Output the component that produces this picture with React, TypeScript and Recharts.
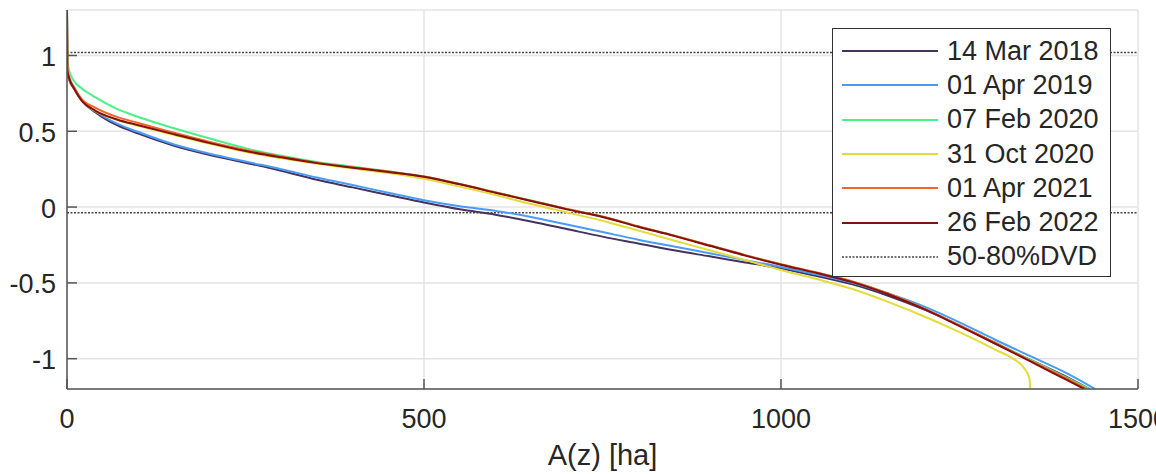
import React from "react";
import {
  CartesianGrid,
  Legend,
  Line,
  LineChart,
  ReferenceLine,
  XAxis,
  YAxis,
} from "recharts";

// shared area grid [ha] the surveys are read at
const AREA = [
  0, 0.5, 3, 10, 20, 40, 70, 100, 150, 200, 250, 300, 350, 400, 450, 500, 550,
  600, 650, 700, 750, 800, 850, 900, 950, 1000, 1050, 1100, 1150, 1200, 1250, 1300,
];

// elevation z at each AREA value, one array per survey
const MAR_2018 = [
  1.3, 0.89, 0.84, 0.78, 0.705, 0.625, 0.54, 0.485, 0.405, 0.344, 0.293, 0.24,
  0.18, 0.13, 0.08, 0.03, -0.015, -0.05, -0.095, -0.145, -0.195, -0.24, -0.285,
  -0.325, -0.365, -0.405, -0.455, -0.51, -0.585, -0.675, -0.78, -0.9,
];
const APR_2019 = [
  1.3, 0.9, 0.85, 0.785, 0.71, 0.632, 0.55, 0.495, 0.413, 0.352, 0.3, 0.25,
  0.195, 0.145, 0.095, 0.045, 0.005, -0.025, -0.065, -0.115, -0.165, -0.215,
  -0.26, -0.305, -0.35, -0.395, -0.445, -0.5, -0.57, -0.655, -0.76, -0.875,
];
const FEB_2020 = [
  1.3, 0.97, 0.9, 0.83, 0.785, 0.724, 0.648, 0.594, 0.52, 0.452, 0.388, 0.338,
  0.298, 0.267, 0.236, 0.202, 0.153, 0.098, 0.043, -0.012, -0.063, -0.128,
  -0.188, -0.253, -0.318, -0.378, -0.433, -0.49, -0.57, -0.67, -0.78, -0.895,
];
const OCT_2020 = [
  1.3, 0.9, 0.85, 0.78, 0.705, 0.633, 0.575, 0.536, 0.475, 0.417, 0.365, 0.323,
  0.285, 0.255, 0.225, 0.187, 0.135, 0.08, 0.02, -0.035, -0.09, -0.155, -0.22,
  -0.285, -0.35, -0.415, -0.475, -0.54, -0.625, -0.72, -0.825, -0.94,
];
const APR_2021 = [
  1.3, 0.91, 0.86, 0.79, 0.715, 0.655, 0.595, 0.555, 0.49, 0.43, 0.377, 0.333,
  0.293, 0.262, 0.234, 0.201, 0.152, 0.097, 0.042, -0.012, -0.062, -0.127,
  -0.187, -0.252, -0.317, -0.377, -0.432, -0.49, -0.57, -0.668, -0.78, -0.895,
];
const FEB_2022 = [
  1.3, 0.9, 0.85, 0.78, 0.705, 0.635, 0.578, 0.54, 0.48, 0.422, 0.37, 0.328,
  0.29, 0.26, 0.232, 0.2, 0.15, 0.095, 0.04, -0.015, -0.065, -0.13, -0.19,
  -0.255, -0.32, -0.38, -0.435, -0.495, -0.575, -0.672, -0.785, -0.9,
];

// last stretch of each curve down to the bottom of the axis
const TAIL_AREA = [
  [1350, 1400, 1432],
  [1350, 1400, 1440],
  [1350, 1400, 1432],
  [1325, 1340, 1348, 1349],
  [1350, 1400, 1428],
  [1350, 1400, 1425],
];
const TAIL_ELEV = [
  [-1.01, -1.12, -1.2],
  [-0.985, -1.095, -1.2],
  [-1.01, -1.125, -1.2],
  [-1.0, -1.06, -1.13, -1.2],
  [-1.015, -1.13, -1.2],
  [-1.02, -1.14, -1.2],
];

const SERIES_NAMES = [
  "14 Mar 2018",
  "01 Apr 2019",
  "07 Feb 2020",
  "31 Oct 2020",
  "01 Apr 2021",
  "26 Feb 2022",
];
const SERIES_VALUES = [MAR_2018, APR_2019, FEB_2020, OCT_2020, APR_2021, FEB_2022];
const SERIES_COLORS = ["#45325f", "#4a9bf7", "#4cf08a", "#e3dc3a", "#f2642a", "#861010"];

const DVD_LEVELS = [1.02, -0.037];
const DVD_LABEL = "50-80%DVD";

const X_TICKS = [0, 500, 1000, 1500];
const Y_TICKS = [-1, -0.5, 0, 0.5, 1];

const FONT = '"Liberation Sans", Arial, Helvetica, sans-serif';
const AXIS = "#555";
const TEXT = "#262626";
const TICK = 10;

const seriesData = SERIES_VALUES.map((vals, i) => [
  ...AREA.map((a, j) => ({ area: a, z: vals[j] })),
  ...TAIL_AREA[i].map((a, j) => ({ area: a, z: TAIL_ELEV[i][j] })),
]);

function LeftTick({ x, y, payload }: any) {
  return (
    <g>
      <line x1={x} x2={x + TICK} y1={y} y2={y} stroke={AXIS} strokeWidth={1.5} />
      <text x={x - 11} y={y + 10.5} textAnchor="end" fontSize={27} fill={TEXT}>
        {payload.value}
      </text>
    </g>
  );
}

function RightTick({ x, y }: any) {
  return <line x1={x - TICK} x2={x} y1={y} y2={y} stroke={AXIS} strokeWidth={1.5} />;
}

function BottomTick({ x, y, payload }: any) {
  return (
    <g>
      <line x1={x} x2={x} y1={y} y2={y - TICK} stroke={AXIS} strokeWidth={1.5} />
      <text x={x} y={y + 39} textAnchor="middle" fontSize={27} fill={TEXT}>
        {payload.value}
      </text>
    </g>
  );
}

function TopTick({ x, y }: any) {
  return <line x1={x} x2={x} y1={y} y2={y + TICK} stroke={AXIS} strokeWidth={1.5} />;
}

function LegendBox() {
  const rows = [
    ...SERIES_NAMES.map((name, i) => ({ name, color: SERIES_COLORS[i], dotted: false })),
    { name: DVD_LABEL, color: "#444", dotted: true },
  ];
  return (
    <div
      style={{
        width: 279,
        height: 249,
        boxSizing: "border-box",
        border: "1.5px solid #333",
        background: "#fff",
        paddingTop: 5,
        fontFamily: FONT,
      }}
    >
      {rows.map((r) => (
        <div
          key={r.name}
          style={{ display: "flex", alignItems: "center", height: 34.3, whiteSpace: "nowrap" }}
        >
          <svg width={114} height={6} style={{ flex: "none" }}>
            <line
              x1={9}
              x2={105}
              y1={3}
              y2={3}
              stroke={r.color}
              strokeWidth={r.dotted ? 1.5 : 2}
              strokeDasharray={r.dotted ? "2 1.5" : undefined}
            />
          </svg>
          <span style={{ fontSize: 27, color: TEXT }}>{r.name}</span>
        </div>
      ))}
    </div>
  );
}

export default function App() {
  return (
    <div style={{ position: "absolute", left: 0, top: 0, width: 1156, height: 474, background: "#fff", fontFamily: FONT }}>
      <LineChart width={1156} height={474} margin={{ top: 10, right: 18, left: 0, bottom: 0 }}>
        <CartesianGrid stroke="#e4e4e4" strokeWidth={1.5} />
        <XAxis
          dataKey="area"
          type="number"
          domain={[0, 1500]}
          ticks={X_TICKS}
          allowDataOverflow
          height={85}
          tickSize={0}
          tickMargin={0}
          tickLine={false}
          axisLine={{ stroke: AXIS, strokeWidth: 1.5 }}
          tick={<BottomTick />}
          label={{ value: "A(z) [ha]", position: "insideBottom", offset: 9, fontSize: 29, fill: TEXT }}
        />
        <XAxis
          xAxisId="top"
          orientation="top"
          type="number"
          domain={[0, 1500]}
          ticks={X_TICKS}
          allowDataOverflow
          height={0}
          tickSize={0}
          tickMargin={0}
          tickLine={false}
          axisLine={{ stroke: AXIS, strokeWidth: 1.5 }}
          tick={<TopTick />}
        />
        <YAxis
          type="number"
          domain={[-1.2, 1.3]}
          ticks={Y_TICKS}
          allowDataOverflow
          width={67}
          tickSize={0}
          tickMargin={0}
          tickLine={false}
          axisLine={{ stroke: AXIS, strokeWidth: 1.5 }}
          tick={<LeftTick />}
        />
        <YAxis
          yAxisId="right"
          orientation="right"
          type="number"
          domain={[-1.2, 1.3]}
          ticks={Y_TICKS}
          allowDataOverflow
          width={0}
          tickSize={0}
          tickMargin={0}
          tickLine={false}
          axisLine={{ stroke: AXIS, strokeWidth: 1.5 }}
          tick={<RightTick />}
        />
        {DVD_LEVELS.map((v) => (
          <ReferenceLine key={v} y={v} stroke="#444" strokeWidth={1.5} strokeDasharray="2 1.5" />
        ))}
        {seriesData.map((rows, i) => (
          <Line
            key={SERIES_NAMES[i]}
            data={rows}
            dataKey="z"
            name={SERIES_NAMES[i]}
            type="monotone"
            stroke={SERIES_COLORS[i]}
            strokeWidth={2}
            dot={false}
            activeDot={false}
            isAnimationActive={false}
          />
        ))}
        <Legend
          layout="vertical"
          align="center"
          verticalAlign="middle"
          content={() => <LegendBox />}
          wrapperStyle={{ left: 832, top: 28, width: 279, height: 249 }}
        />
      </LineChart>
    </div>
  );
}
